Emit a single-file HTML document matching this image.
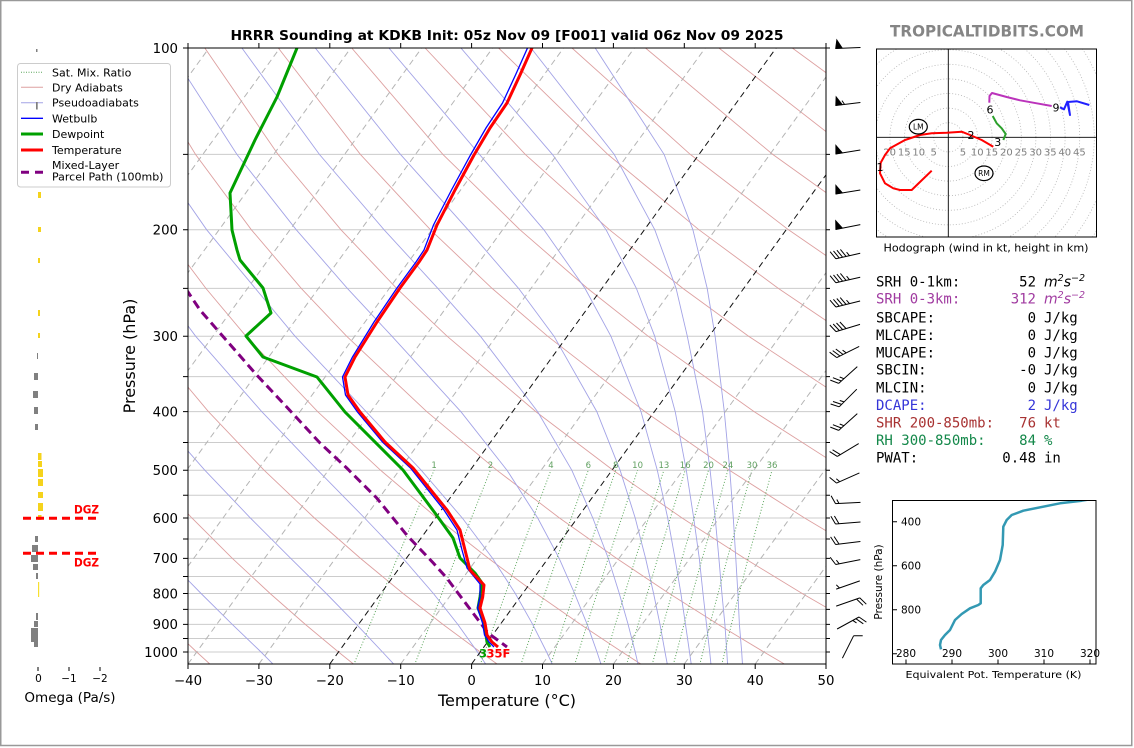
<!DOCTYPE html>
<html><head><meta charset="utf-8"><style>
html,body{margin:0;padding:0;background:#fff;}
svg{display:block;font-family:"DejaVu Sans","Liberation Sans",sans-serif;}
.mono{font-family:"DejaVu Sans Mono","Liberation Mono",monospace;font-size:14px;}
</style></head><body>
<svg width="1134" height="748" viewBox="0 0 1134 748" xmlns="http://www.w3.org/2000/svg">
<defs>
<clipPath id="cm"><rect x="188" y="48" width="638" height="616"/></clipPath>
<clipPath id="ch"><rect x="876.5" y="49" width="220" height="188"/></clipPath>
<clipPath id="ct"><rect x="892.5" y="500.5" width="203.5" height="163.5"/></clipPath>
</defs>
<rect width="1134" height="748" fill="#fff"/>
<rect x="0.75" y="0.5" width="1131" height="745" fill="none" stroke="#999" stroke-width="1.5"/>

<text x="507" y="40" text-anchor="middle" font-weight="bold" font-size="13" textLength="553" lengthAdjust="spacingAndGlyphs">HRRR Sounding at KDKB Init: 05z Nov 09 [F001] valid 06z Nov 09 2025</text>

<g clip-path="url(#cm)">
 <g stroke="#cccccc" stroke-width="1">
  <line x1="188" x2="826" y1="154.4" y2="154.4"/><line x1="188" x2="826" y1="229.8" y2="229.8"/>
  <line x1="188" x2="826" y1="288.4" y2="288.4"/><line x1="188" x2="826" y1="336.2" y2="336.2"/>
  <line x1="188" x2="826" y1="376.6" y2="376.6"/><line x1="188" x2="826" y1="411.6" y2="411.6"/>
  <line x1="188" x2="826" y1="442.5" y2="442.5"/><line x1="188" x2="826" y1="470.2" y2="470.2"/>
  <line x1="188" x2="826" y1="495.2" y2="495.2"/><line x1="188" x2="826" y1="518" y2="518"/>
  <line x1="188" x2="826" y1="539" y2="539"/><line x1="188" x2="826" y1="558.4" y2="558.4"/>
  <line x1="188" x2="826" y1="576.5" y2="576.5"/><line x1="188" x2="826" y1="593.5" y2="593.5"/>
  <line x1="188" x2="826" y1="609.4" y2="609.4"/><line x1="188" x2="826" y1="624.4" y2="624.4"/>
  <line x1="188" x2="826" y1="638.5" y2="638.5"/><line x1="188" x2="826" y1="652" y2="652"/>
 </g>
 <!-- dry adiabats -->
 <g fill="none" stroke="#dda0a0" stroke-width="0.9">
  <polyline points="210.7,664.8 196.7,652 167.8,624.4"/>
  <polyline points="354.4,664.8 338.5,652 305.3,624.4 270.1,593.5 232.4,558.4 191.9,518 147.9,470.2"/>
  <polyline points="498.2,664.8 480.3,652 442.9,624.4 403.1,593.5 360.5,558.4 314.4,518 264.1,470.2 208.4,411.6 145.5,336.2"/>
  <polyline points="642.0,664.8 622.1,652 580.5,624.4 536.1,593.5 488.5,558.4 437.0,518 380.5,470.2 317.6,411.6 246.0,336.2 205.9,288.4 161.9,229.8"/>
  <polyline points="785.7,664.8 763.9,652 718.1,624.4 669.2,593.5 616.6,558.4 559.5,518 496.8,470.2 426.7,411.6 346.6,336.2 301.3,288.4 251.4,229.8 195.5,154.4 131.4,48"/>
  <polyline points="929.5,664.8 905.6,652 855.6,624.4 802.2,593.5 744.6,558.4 682.1,518 613.1,470.2 535.8,411.6 447.1,336.2 396.7,288.4 341.0,229.8 278.0,154.4 204.8,48"/>
  <polyline points="993.2,624.4 935.2,593.5 872.6,558.4 804.6,518 729.4,470.2 644.9,411.6 547.6,336.2 492.1,288.4 430.5,229.8 360.4,154.4 278.3,48"/>
  <polyline points="1000.7,558.4 927.1,518 845.7,470.2 754.1,411.6 648.1,336.2 587.5,288.4 520.0,229.8 442.9,154.4 351.7,48"/>
  <polyline points="962.0,470.2 863.2,411.6 748.6,336.2 682.9,288.4 609.5,229.8 525.3,154.4 425.1,48"/>
  <polyline points="972.3,411.6 849.1,336.2 778.3,288.4 699.0,229.8 607.8,154.4 498.6,48"/>
  <polyline points="949.6,336.2 873.8,288.4 788.5,229.8 690.3,154.4 572.0,48"/>
  <polyline points="969.2,288.4 878.1,229.8 772.7,154.4 645.5,48"/>
  <polyline points="967.6,229.8 855.2,154.4 718.9,48"/>
  <polyline points="937.6,154.4 792.3,48"/>
 </g>
 <!-- pseudoadiabats -->
 <g fill="none" stroke="#a3a3e6" stroke-width="0.9">
  <polyline points="273.7,664.8 261.0,652 232.3,624.4 201.1,593.5 166.8,558.4"/>
  <polyline points="394.4,664.8 382.5,652 356.5,624.4 326.3,593.5 290.8,558.4 250.4,518 204.8,470.2 153.5,411.6"/>
  <polyline points="486.2,664.8 477.5,652 457.8,624.4 433.4,593.5 403.1,558.4 364.6,518 317.7,470.2 261.7,411.6 195.6,336.2 117.1,229.8"/>
  <polyline points="552.6,664.8 546.6,652 532.7,624.4 515.3,593.5 492.6,558.4 462.3,518 421.2,470.2 366.1,411.6 295.0,336.2 206.7,229.8 154.4,154.4 94.9,48"/>
  <polyline points="601.2,664.8 597.0,652 587.2,624.4 574.6,593.5 559.2,558.4 537.7,518 507.0,470.2 460.8,411.6 391.9,336.2 347.4,288.4 296.3,229.8 236.9,154.4 168.4,48"/>
  <polyline points="638.2,664.8 635.2,652 628.1,624.4 619.3,593.5 608.3,558.4 592.8,518 571.8,470.2 537.6,411.6 480.4,336.2 437.9,288.4 384.1,229.8 319.4,154.4 241.9,48"/>
  <polyline points="667.4,664.8 665.0,652 660.0,624.4 653.6,593.5 645.6,558.4 635.2,518 620.1,470.2 596.8,411.6 554.0,336.2 518.6,288.4 468.1,229.8 400.5,154.4 315.3,48"/>
  <polyline points="691.3,664.8 689.5,652 685.5,624.4 680.9,593.5 675.0,558.4 667.7,518 657.3,470.2 641.0,411.6 610.9,336.2 585.0,288.4 543.9,229.8 479.5,154.4 388.9,48"/>
  <polyline points="711.0,664.8 709.7,652 706.5,624.4 703.0,593.5 699.3,558.4 693.7,518 686.3,470.2 675.2,411.6 654.7,336.2 636.4,288.4 606.1,229.8 552.4,154.4 460.9,48"/>
  <polyline points="727.6,664.8 726.8,652 724.9,624.4 721.9,593.5 718.9,558.4 715.2,518 710.1,470.2 702.5,411.6 687.3,336.2 676.1,288.4 654.8,229.8 614.2,154.4 531.0,48"/>
  <polyline points="742.5,664.8 741.7,652 739.4,624.4 737.9,593.5 735.8,558.4 733.3,518 729.8,470.2 724.3,411.6 715.1,336.2 707.2,288.4 692.9,229.8 664.1,154.4 595.2,48"/>
 </g>
 <!-- mixing ratio -->
 <g fill="none" stroke="#5aa55a" stroke-width="1" stroke-dasharray="1 2">
  <polyline points="353.7,664.8 370.1,624.4 397.1,558.4 434.1,470.2"/>
  <polyline points="414.6,664.8 430.0,624.4 455.4,558.4 490.4,470.2"/>
  <polyline points="480.2,664.8 494.4,624.4 518.1,558.4 550.9,470.2"/>
  <polyline points="520.8,664.8 534.3,624.4 556.9,558.4 588.3,470.2"/>
  <polyline points="550.7,664.8 563.7,624.4 585.5,558.4 615.7,470.2"/>
  <polyline points="574.6,664.8 587.1,624.4 608.2,558.4 637.6,470.2"/>
  <polyline points="603.3,664.8 615.3,624.4 635.5,558.4 663.9,470.2"/>
  <polyline points="626.5,664.8 638.1,624.4 657.7,558.4 685.2,470.2"/>
  <polyline points="652.1,664.8 663.2,624.4 682.0,558.4 708.5,470.2"/>
  <polyline points="673.3,664.8 684.0,624.4 702.2,558.4 727.9,470.2"/>
  <polyline points="699.7,664.8 709.9,624.4 727.3,558.4 752.0,470.2"/>
  <polyline points="721.7,664.8 731.4,624.4 748.1,558.4 772.0,470.2"/>
 </g>
 <!-- isotherms -->
 <g stroke="#b4b4b4" stroke-width="1" stroke-dasharray="6 4">
  <line x1="-237.3" y1="664" x2="209.0" y2="48"/><line x1="-166.4" y1="664" x2="279.9" y2="48"/>
  <line x1="-95.5" y1="664" x2="350.8" y2="48"/><line x1="-24.6" y1="664" x2="421.7" y2="48"/>
  <line x1="46.3" y1="664" x2="492.6" y2="48"/><line x1="117.2" y1="664" x2="563.5" y2="48"/>
  <line x1="188.0" y1="664" x2="634.3" y2="48"/><line x1="258.9" y1="664" x2="705.2" y2="48"/>
  <line x1="400.7" y1="664" x2="847.0" y2="48"/>
  <line x1="542.5" y1="664" x2="988.8" y2="48"/><line x1="613.4" y1="664" x2="1059.7" y2="48"/>
  <line x1="684.3" y1="664" x2="1130.6" y2="48"/><line x1="755.2" y1="664" x2="1201.5" y2="48"/>
 </g>
 <g stroke="#111" stroke-width="1" stroke-dasharray="6 4">
  <line x1="329.8" y1="664" x2="776.1" y2="48"/>
  <line x1="471.6" y1="664" x2="917.9" y2="48"/>
 </g>
 <g fill="#5f9f5f" font-size="8.5" text-anchor="middle">
  <text x="434.1" y="468">1</text><text x="490.4" y="468">2</text><text x="550.9" y="468">4</text>
  <text x="588.3" y="468">6</text><text x="615.7" y="468">8</text><text x="637.6" y="468">10</text>
  <text x="663.9" y="468">13</text><text x="685.2" y="468">16</text><text x="708.5" y="468">20</text>
  <text x="727.9" y="468">24</text><text x="752" y="468">30</text><text x="772" y="468">36</text>
 </g>
 <polyline fill="none" stroke="#800080" stroke-width="3" stroke-dasharray="9 5" points="186,289 200,310 220,333 256.7,375 286.7,407 320,443 346.7,468 376.7,498 406.7,535 433.3,563 446.7,578 488,633 507,647"/>
 <polyline fill="none" stroke="#00a000" stroke-width="3" stroke-linejoin="round" points="297,48 277,97 255,140 230,193 232,230 237,250 240,260 263,288 271,313 246,336 263,357 317,377 345,412 403,470 435,513 453,538 460,558 475,573 482,583 480,597 478,608 484,623 486,635 487,642 490,647"/>
 <polyline fill="none" stroke="#0000ff" stroke-width="1.3" points="527.5,48 515.5,75 502.5,103 486,128 470.5,155 451.5,190 433.5,225 424,250 416,262 397,288 374,322 352.5,357 342.5,377 345.5,395 357.5,412 382.5,442 410.5,468 444,510 457,530 462,550 467,568 480,584 480,597 477.5,608 482.5,623 484.5,635 489,642 494,647"/>
 <polyline fill="none" stroke="#ff0000" stroke-width="3" stroke-linejoin="round" points="532,48 520,75 507,103 490,128 474,155 455,190 437,225 427,250 419,262 400,288 377,322 355,357 345,377 348,395 360,412 385,442 413,468 447,510 460,530 465,550 470,570 484,585 482.7,597 480,608 485,623 487,635 492,642 498,647"/>
 <text x="479" y="657.5" font-size="11.5" font-weight="bold" fill="#00a000">3</text>
 <text x="486.5" y="657.5" font-size="11.5" font-weight="bold" fill="#ff0000">35F</text>
</g>
<rect x="188" y="48" width="638" height="616" fill="none" stroke="#000" stroke-width="1"/>

<g stroke="#000" stroke-width="1">
 <path d="M183 48H188M183 154.4H188M183 229.8H188M183 288.4H188M183 336.2H188M183 376.6H188M183 411.6H188M183 442.5H188M183 470.2H188M183 495.2H188M183 518H188M183 539H188M183 558.4H188M183 576.5H188M183 593.5H188M183 609.4H188M183 624.4H188M183 638.5H188M183 652H188"/>
 <path d="M826 48H830M826 154.4H830M826 229.8H830M826 288.4H830M826 336.2H830M826 376.6H830M826 411.6H830M826 442.5H830M826 470.2H830M826 495.2H830M826 518H830M826 539H830M826 558.4H830M826 576.5H830M826 593.5H830M826 609.4H830M826 624.4H830M826 638.5H830M826 652H830"/>
 <path d="M188 664V669M258.9 664V669M329.8 664V669M400.7 664V669M471.6 664V669M542.5 664V669M613.4 664V669M684.3 664V669M755.2 664V669M826 664V669"/>
 <path d="M188 43V48M258.9 43V48M329.8 43V48M400.7 43V48M471.6 43V48M542.5 43V48M613.4 43V48M684.3 43V48M755.2 43V48M826 43V48"/>
</g>
<g font-size="13.3" text-anchor="end">
 <text x="178" y="52.8">100</text><text x="178" y="234.6">200</text><text x="178" y="341">300</text>
 <text x="178" y="416.4">400</text><text x="178" y="475">500</text><text x="178" y="522.8">600</text>
 <text x="178" y="563.2">700</text><text x="178" y="598.3">800</text><text x="178" y="629.2">900</text>
 <text x="178" y="656.8">1000</text>
</g>
<g font-size="13.3" text-anchor="middle">
 <text x="188" y="685">−40</text><text x="258.9" y="685">−30</text><text x="329.8" y="685">−20</text>
 <text x="400.7" y="685">−10</text><text x="471.6" y="685">0</text><text x="542.5" y="685">10</text>
 <text x="613.4" y="685">20</text><text x="684.3" y="685">30</text><text x="755.2" y="685">40</text>
 <text x="826" y="685">50</text>
</g>
<text x="507" y="706" font-size="16" text-anchor="middle">Temperature (°C)</text>
<text transform="translate(135,356) rotate(-90)" font-size="16" text-anchor="middle">Pressure (hPa)</text>

<!-- wind barbs -->
<g fill="#000" stroke="#000" stroke-width="0.6">
 <polygon points="835.5,48.5 836.7,39.5 842.5,48.2"/>
 <polygon points="835.6,105.5 836.0,96.4 842.5,104.7"/>
 <polygon points="835.7,154.0 835.7,144.9 842.6,152.9"/>
 <polygon points="835.7,194.0 835.7,184.9 842.6,192.9"/>
 <polygon points="835.7,229.5 835.5,220.3 842.6,228.1"/>
</g>
<g fill="none" stroke="#000" stroke-width="1">
 <path d="M860.5 47.5L835.5 48.5"/>
 <path d="M860.4 102.5L835.6 105.5M844.5 104.4L842.0 100.6"/>
 <path d="M860.3 150.0L835.7 154.0"/>
 <path d="M860.3 190.0L835.7 194.0"/>
 <path d="M860.3 224.6L835.7 229.5"/>
 <path d="M860.2 253.3L835.8 258.7M835.8 258.7L830.1 251.7M839.2 257.9L833.5 250.9M842.6 257.2L836.9 250.2M846.1 256.4L840.4 249.4M849.5 255.7L846.6 252.2"/>
 <path d="M860.2 277.3L835.8 282.7M835.8 282.7L830.1 275.7M839.2 281.9L833.5 274.9M842.6 281.2L836.9 274.2M846.1 280.4L840.4 273.4M849.5 279.7L846.6 276.2"/>
 <path d="M860.1 301.0L835.9 307.0M835.9 307.0L830.0 300.2M839.3 306.2L833.4 299.3M842.7 305.3L836.8 298.5M846.1 304.5L840.2 297.6M849.5 303.6L846.5 300.2"/>
 <path d="M860.0 324.4L836.0 331.6M836.0 331.6L829.8 325.0M839.4 330.6L833.2 324.0M842.7 329.6L836.5 323.0M846.1 328.6L839.9 322.0"/>
 <path d="M859.2 346.4L836.8 357.6M836.8 357.6L829.6 352.2M840.0 356.0L832.7 350.6M843.1 354.5L835.8 349.0M846.2 352.9L842.6 350.2"/>
 <path d="M857.3 366.6L838.7 383.4M838.7 383.4L830.3 380.1M841.3 381.0L832.9 377.7M843.9 378.7L839.7 377.0"/>
 <path d="M856.8 389.2L839.2 406.8M839.2 406.8L830.6 404.0M841.6 404.4L833.0 401.5M844.1 401.9L839.8 400.5"/>
 <path d="M857.3 413.6L838.7 430.4M838.7 430.4L830.3 427.1M841.3 428.0L832.9 424.7M843.9 425.7L839.7 424.0"/>
 <path d="M858.7 443.6L837.3 456.4M837.3 456.4L829.6 451.6M840.3 454.6L832.6 449.8"/>
 <path d="M859.4 472.9L836.6 483.1M836.6 483.1L829.6 477.4M839.8 481.7L836.3 478.8"/>
 <path d="M860.5 502.4L835.5 503.6M835.5 503.6L831.1 495.7M839.0 503.5L836.8 499.5"/>
 <path d="M860.5 522.0L835.5 524.0M835.5 524.0L830.9 516.3M839.0 523.7L834.4 516.0"/>
 <path d="M860.4 541.5L835.6 544.5M835.6 544.5L830.6 536.9M839.1 544.1L834.1 536.5"/>
 <path d="M860.3 559.6L835.7 564.5M835.7 564.5L830.2 557.3M839.2 563.8L836.4 560.2"/>
 <path d="M859.8 580.9L836.2 589.1M839.5 588.0L836.3 584.8"/>
 <path d="M836.2 606.1L859.8 597.9M859.8 597.9L866.3 604.2M856.5 599.0L863.0 605.3"/>
 <path d="M837.1 629.0L859.0 617.0M859.0 617.0L866.4 622.1M855.9 618.7L863.3 623.8M852.8 620.4L856.5 622.9"/>
 <path d="M842.4 658.2L853.6 635.8M853.6 635.8L862.7 635.8"/>
</g>

<!-- omega panel -->
<g fill="#808080">
 <rect x="36" y="49" width="1.5" height="3"/>
 <rect x="37" y="353" width="1" height="6"/><rect x="34" y="373" width="4" height="7"/>
 <rect x="33" y="391" width="5" height="7"/><rect x="34" y="407" width="4" height="7"/>
 <rect x="35" y="424" width="3" height="6"/>
 <rect x="35" y="536" width="3" height="6"/><rect x="32" y="545" width="6" height="7"/>
 <rect x="31" y="555" width="7" height="7"/><rect x="33" y="564" width="5" height="6"/>
 <rect x="36" y="573" width="2" height="6"/>
 <rect x="36" y="613" width="2" height="7"/><rect x="34" y="621" width="4" height="6"/>
 <rect x="31" y="628" width="7" height="14"/><rect x="34" y="642" width="4" height="5"/>
</g>
<g fill="#f5d31c">
 <rect x="38" y="192" width="3" height="6"/><rect x="38" y="227" width="3" height="5"/>
 <rect x="38" y="258" width="2" height="5"/><rect x="38" y="310" width="2" height="6"/>
 <rect x="38" y="333" width="2" height="5"/>
 <rect x="38" y="453" width="3.5" height="7"/><rect x="38" y="461" width="4" height="6"/>
 <rect x="38" y="469" width="5" height="8"/><rect x="38" y="479" width="5" height="7"/>
 <rect x="38" y="492" width="5" height="6"/><rect x="38" y="503" width="5" height="8"/>
 <rect x="38" y="515" width="3.5" height="5"/>
 <rect x="38" y="582" width="1.2" height="15" fill="#f7e030"/>
</g>
<g stroke="#ff0000" stroke-width="3" stroke-dasharray="8 5">
 <line x1="23" x2="99" y1="518.3" y2="518.3"/>
 <line x1="23" x2="99" y1="553.3" y2="553.3"/>
</g>
<g fill="#ff0000" font-weight="bold" font-size="11.5">
 <text x="74" y="513.3" textLength="25" lengthAdjust="spacingAndGlyphs">DGZ</text>
 <text x="74" y="566.7" textLength="25" lengthAdjust="spacingAndGlyphs">DGZ</text>
</g>
<g stroke="#000" stroke-width="1"><path d="M38 667V671M69 667V671M100 667V671"/></g>
<g font-size="10.5" text-anchor="middle">
 <text x="38.5" y="682">0</text><text x="69" y="682">−1</text><text x="100" y="682">−2</text>
</g>
<text x="70" y="702" font-size="13.5" text-anchor="middle">Omega (Pa/s)</text>

<!-- legend -->
<rect x="17.5" y="63.5" width="153" height="123.5" rx="3" fill="#fff" fill-opacity="0.85" stroke="#cccccc"/>
<g stroke-width="1" fill="none">
 <line x1="21" x2="43" y1="72.3" y2="72.3" stroke="#5aa55a" stroke-dasharray="1 1.5"/>
 <line x1="21" x2="43" y1="87.3" y2="87.3" stroke="#dda0a0"/>
 <line x1="21" x2="43" y1="102.7" y2="102.7" stroke="#a3a3e6"/>
 <line x1="21" x2="43" y1="118.3" y2="118.3" stroke="#0000ff" stroke-width="1.3"/>
 <line x1="21" x2="43" y1="134" y2="134" stroke="#00a000" stroke-width="3"/>
 <line x1="21" x2="43" y1="150" y2="150" stroke="#ff0000" stroke-width="3"/>
 <line x1="21" x2="43" y1="172.3" y2="172.3" stroke="#800080" stroke-width="3" stroke-dasharray="8 6"/>
</g>
<rect x="36" y="102" width="1.7" height="7.5" fill="#808080"/>
<g font-size="11">
 <text x="52" y="76.3">Sat. Mix. Ratio</text>
 <text x="52" y="91.3">Dry Adiabats</text>
 <text x="52" y="106.7">Pseudoadiabats</text>
 <text x="52" y="122.3">Wetbulb</text>
 <text x="52" y="138">Dewpoint</text>
 <text x="52" y="154">Temperature</text>
 <text x="52" y="169">Mixed-Layer</text>
 <text x="52" y="180.7">Parcel Path (100mb)</text>
</g>

<text x="987" y="36.5" text-anchor="middle" font-weight="bold" font-size="16" fill="#858585" textLength="194" lengthAdjust="spacingAndGlyphs">TROPICALTIDBITS.COM</text>

<!-- hodograph -->
<g clip-path="url(#ch)">
 <g fill="none" stroke="#b4b4b4" stroke-width="0.8" stroke-dasharray="1 2">
  <circle cx="948.3" cy="137.3" r="14.6"/><circle cx="948.3" cy="137.3" r="29.2"/>
  <circle cx="948.3" cy="137.3" r="43.8"/><circle cx="948.3" cy="137.3" r="58.4"/>
  <circle cx="948.3" cy="137.3" r="73"/><circle cx="948.3" cy="137.3" r="87.6"/>
  <circle cx="948.3" cy="137.3" r="102.2"/><circle cx="948.3" cy="137.3" r="116.8"/>
  <circle cx="948.3" cy="137.3" r="131.4"/><circle cx="948.3" cy="137.3" r="146"/>
  <circle cx="948.3" cy="137.3" r="160.6"/><circle cx="948.3" cy="137.3" r="175.2"/>
 </g>
 <line x1="876" x2="1097" y1="137.3" y2="137.3" stroke="#000" stroke-width="0.9"/>
 <line x1="948.3" x2="948.3" y1="48" y2="238" stroke="#000" stroke-width="0.9"/>
 <g fill="#808080" font-size="10" text-anchor="middle">
  <text x="889.6" y="155.5">20</text><text x="904.2" y="155.5">15</text><text x="918.8" y="155.5">10</text><text x="933.7" y="155.5">5</text>
  <text x="962.9" y="155.5">5</text><text x="977.2" y="155.5">10</text><text x="991.8" y="155.5">15</text><text x="1006.4" y="155.5">20</text>
  <text x="1021" y="155.5">25</text><text x="1035.6" y="155.5">30</text><text x="1050.2" y="155.5">35</text><text x="1064.8" y="155.5">40</text><text x="1079.4" y="155.5">45</text>
 </g>
 <g fill="none" stroke-width="2" stroke-linejoin="round">
  <polyline stroke="#ff0000" points="931.7,170.7 921,181 911.7,190 900,190 893.3,188.3 885,183.3 880,173.3 880.7,162.7 885,155 890,148.3 905,140 920,135 931.7,133.3 946.7,132.7 961.7,131.7 970,135 981.7,140 993.3,146.7"/>
  <polyline stroke="#2ca02c" points="1003.3,140 1005.7,134 1001.7,128.3 996.7,123.3 992.7,116"/>
  <polyline stroke="#bb33bb" points="989.3,102.7 989.5,96 992,93 1006.7,97 1020,100.3 1036.7,103.3 1051.7,106"/>
  <polyline stroke="#2020ff" points="1060,107.3 1064,109.3 1067.3,101.7 1070,115 1068,102 1077,101.3 1089.3,105"/>
 </g>
 <g font-size="11" text-anchor="middle">
  <text x="880" y="171">1</text><text x="971" y="139">2</text><text x="997.7" y="146">3</text>
  <text x="990" y="113.3">6</text><text x="1056" y="111.3">9</text>
 </g>
 <ellipse cx="918.3" cy="126.7" rx="9" ry="7.3" fill="#fff" stroke="#000" stroke-width="1.2"/>
 <ellipse cx="984" cy="173.3" rx="9" ry="7.3" fill="#fff" stroke="#000" stroke-width="1.2"/>
 <text x="918.3" y="129.5" font-size="7.5" text-anchor="middle">LM</text>
 <text x="984" y="176.1" font-size="7.5" text-anchor="middle">RM</text>
</g>
<rect x="876.5" y="49" width="220" height="188" fill="none" stroke="#000" stroke-width="1"/>
<text x="986" y="251.5" font-size="10.5" text-anchor="middle" textLength="205" lengthAdjust="spacingAndGlyphs">Hodograph (wind in kt, height in km)</text>

<!-- stats -->
<g class="mono">
 <text x="876" y="286.5">SRH 0-1km:</text><text x="1036" y="286.5" text-anchor="end">52</text>
 <text x="1044" y="286.5" font-family="DejaVu Sans, sans-serif" font-style="italic">m<tspan font-size="9.5" dy="-5.5">2</tspan><tspan dy="5.5">s</tspan><tspan font-size="9.5" dy="-5.5">−2</tspan></text>
 <g fill="#a03aa0">
  <text x="876" y="303.3">SRH 0-3km:</text><text x="1036" y="303.3" text-anchor="end">312</text>
  <text x="1044" y="303.3" font-family="DejaVu Sans, sans-serif" font-style="italic">m<tspan font-size="9.5" dy="-5.5">2</tspan><tspan dy="5.5">s</tspan><tspan font-size="9.5" dy="-5.5">−2</tspan></text>
 </g>
 <text x="876" y="322.5">SBCAPE:</text><text x="1036" y="322.5" text-anchor="end">0</text><text x="1044" y="322.5">J/kg</text>
 <text x="876" y="340">MLCAPE:</text><text x="1036" y="340" text-anchor="end">0</text><text x="1044" y="340">J/kg</text>
 <text x="876" y="357.3">MUCAPE:</text><text x="1036" y="357.3" text-anchor="end">0</text><text x="1044" y="357.3">J/kg</text>
 <text x="876" y="374.7">SBCIN:</text><text x="1036" y="374.7" text-anchor="end">-0</text><text x="1044" y="374.7">J/kg</text>
 <text x="876" y="392.3">MLCIN:</text><text x="1036" y="392.3" text-anchor="end">0</text><text x="1044" y="392.3">J/kg</text>
 <g fill="#3535d8"><text x="876" y="410">DCAPE:</text><text x="1036" y="410" text-anchor="end">2</text><text x="1044" y="410">J/kg</text></g>
 <g fill="#a83232"><text x="876" y="427.5">SHR 200-850mb:</text><text x="1036" y="427.5" text-anchor="end">76</text><text x="1044" y="427.5">kt</text></g>
 <g fill="#14884a"><text x="876" y="445">RH 300-850mb:</text><text x="1036" y="445" text-anchor="end">84</text><text x="1044" y="445">%</text></g>
 <text x="876" y="462.5">PWAT:</text><text x="1036" y="462.5" text-anchor="end">0.48</text><text x="1044" y="462.5">in</text>
</g>

<!-- theta-e inset -->
<g clip-path="url(#ct)">
 <polyline fill="none" stroke="#3399b3" stroke-width="2.5" stroke-linejoin="round" points="1095,498.5 1081.7,500.7 1060,503.3 1023.3,510.7 1011.7,515 1006.7,520 1003.3,526.7 1002.7,545 1000,560 995,571.7 990,580 983.3,585 980.7,588.3 980.7,603.3 978.3,605 970,608.3 961.7,614 955,620 950,630 945,635 941,640 940,645 941,649.3"/>
</g>
<rect x="892.5" y="500.5" width="203.5" height="163.5" fill="none" stroke="#000" stroke-width="1"/>
<g stroke="#000" stroke-width="1">
 <path d="M892.5 521.7H897M892.5 565.7H897M892.5 609.7H897M892.5 653.7H897"/>
 <path d="M906 664V659.5M952 664V659.5M998 664V659.5M1044 664V659.5M1090 664V659.5"/>
</g>
<g font-size="10.5">
 <text x="901" y="525.5">400</text><text x="901" y="569.5">600</text><text x="901" y="613.5">800</text>
</g>
<g font-size="10.5" text-anchor="middle">
 <text x="906" y="657">280</text><text x="952" y="657">290</text><text x="998" y="657">300</text>
 <text x="1044" y="657">310</text><text x="1090" y="657">320</text>
</g>
<text x="993.5" y="678" font-size="10" text-anchor="middle" textLength="176" lengthAdjust="spacingAndGlyphs">Equivalent Pot. Temperature (K)</text>
<text transform="translate(882,582) rotate(-90)" font-size="10.5" text-anchor="middle">Pressure (hPa)</text>
</svg>
</body></html>
